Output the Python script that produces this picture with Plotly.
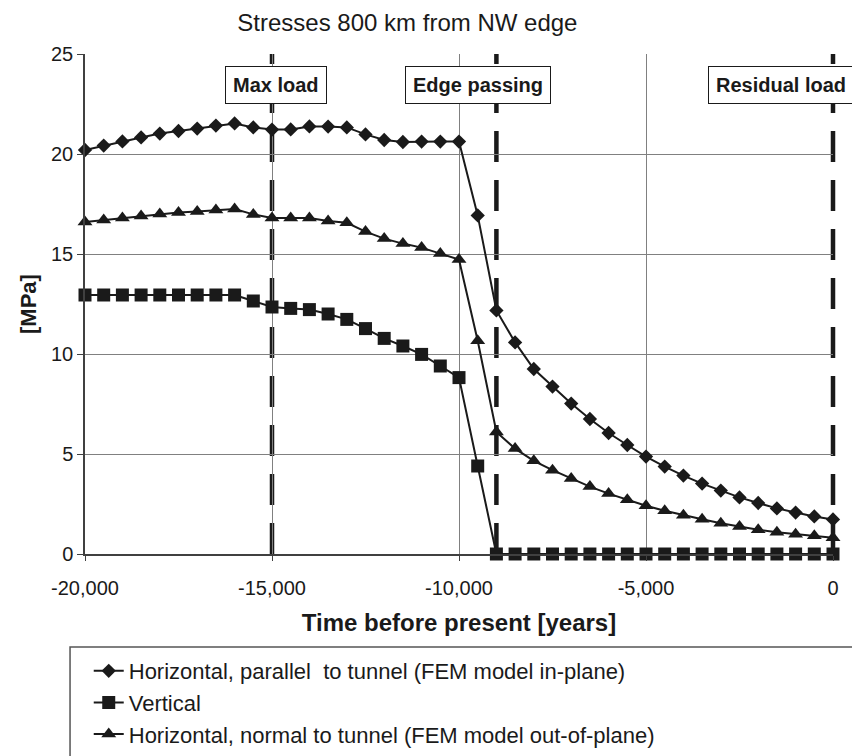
import plotly.graph_objects as go

years = [-20000, -19500, -19000, -18500, -18000, -17500, -17000, -16500, -16000, -15500,
         -15000, -14500, -14000, -13500, -13000, -12500, -12000, -11500, -11000, -10500,
         -10000, -9500, -9000, -8500, -8000, -7500, -7000, -6500, -6000, -5500,
         -5000, -4500, -4000, -3500, -3000, -2500, -2000, -1500, -1000, -500, 0]

parallel = [20.2, 20.42, 20.63, 20.83, 21.02, 21.15, 21.27, 21.42, 21.53, 21.33,
            21.22, 21.23, 21.38, 21.37, 21.33, 20.98, 20.7, 20.6, 20.62, 20.62,
            20.62, 16.93, 12.18, 10.58, 9.25, 8.37, 7.52, 6.75, 6.05, 5.45,
            4.87, 4.37, 3.92, 3.52, 3.17, 2.83, 2.55, 2.28, 2.07, 1.88, 1.73]

vertical = [12.95, 12.95, 12.95, 12.95, 12.95, 12.95, 12.95, 12.95, 12.95, 12.65,
            12.35, 12.28, 12.22, 12.0, 11.73, 11.27, 10.78, 10.4, 9.98, 9.4,
            8.82, 4.4, 0, 0, 0, 0, 0, 0, 0, 0,
            0, 0, 0, 0, 0, 0, 0, 0, 0, 0, 0]

normal = [16.6, 16.7, 16.8, 16.9, 17.0, 17.07, 17.13, 17.2, 17.25, 16.98,
          16.8, 16.8, 16.8, 16.65, 16.56, 16.12, 15.77, 15.52, 15.32, 15.02,
          14.72, 10.66, 6.1, 5.27, 4.66, 4.19, 3.77, 3.37, 3.02, 2.71,
          2.41, 2.16, 1.94, 1.74, 1.54, 1.37, 1.21, 1.09, 0.99, 0.91, 0.81]

series_names = ["Horizontal, parallel  to tunnel (FEM model in-plane)",
                "Vertical",
                "Horizontal, normal to tunnel (FEM model out-of-plane)"]

event_years = [-15000, -9000, 0]
event_labels = ["Max load", "Edge passing", "Residual load"]
event_label_x = [-14900, -9480, -3340]

x_tickvals = [-20000, -15000, -10000, -5000, 0]
x_ticktext = ["-20,000", "-15,000", "-10,000", "-5,000", "0"]
y_tickvals = [0, 5, 10, 15, 20, 25]
X_RANGE = [-20000, 0]
Y_RANGE = [0, 25]

FONT = "Liberation Sans, Arial, sans-serif"
INK = "#1a1a1a"

fig = go.Figure()
symbols = ["diamond", "square", "triangle-up"]
sizes = [11, 13, 13]
for i, (vals, name) in enumerate(zip([parallel, vertical, normal], series_names)):
    fig.add_trace(go.Scatter(
        x=years, y=vals, name=name, mode="lines+markers",
        line=dict(color=INK, width=2),
        marker=dict(symbol=symbols[i], size=sizes[i], color=INK, line=dict(width=0)),
        cliponaxis=False,
    ))

for ex in event_years:
    xp = (ex - X_RANGE[0]) / (X_RANGE[1] - X_RANGE[0])
    fig.add_shape(type="line", xref="paper", yref="y", x0=xp, x1=xp, y0=Y_RANGE[0], y1=Y_RANGE[1],
                  line=dict(color=INK, width=4.5, dash="31px,18px"), layer="between")

for lx, lab, ex in zip(event_label_x, event_labels, event_years):
    fig.add_annotation(x=lx, y=23.45, xref="x", yref="y", text=f"<b>{lab}</b>",
                       showarrow=False, xanchor="center" if ex != 0 else "left",
                       font=dict(family=FONT, size=20, color=INK),
                       bgcolor="white", bordercolor=INK, borderwidth=1, borderpad=7)

# legend frame (extends beyond the page edge like the reference)
fig.add_shape(type="rect", xref="paper", yref="paper", x0=-0.02, x1=1.2,
              y0=-0.6, y1=-0.186, line=dict(color="#555555", width=1.5),
              fillcolor="rgba(0,0,0,0)", layer="above")

fig.update_layout(
    width=852, height=756,
    margin=dict(l=85, r=19, t=54, b=202, autoexpand=False),
    paper_bgcolor="white", plot_bgcolor="white",
    font=dict(family=FONT, color=INK),
    title=dict(text="Stresses 800 km from NW edge", x=0.431, xref="paper", xanchor="center",
               y=1 - 23 / 756, yanchor="middle", font=dict(family=FONT, size=24, color=INK)),
    showlegend=True,
    legend=dict(x=0.005, y=-0.192, xanchor="left", yanchor="top", orientation="v",
                font=dict(family=FONT, size=22, color=INK), traceorder="normal",
                bgcolor="rgba(0,0,0,0)", borderwidth=0),
)

fig.update_xaxes(
    range=X_RANGE, tickvals=x_tickvals, ticktext=x_ticktext,
    showgrid=True, gridcolor="#808080", gridwidth=1,
    showline=True, linecolor="#404040", linewidth=1.5, mirror=False,
    ticks="outside", ticklen=5, tickcolor="#404040", ticklabelstandoff=10,
    tickfont=dict(family=FONT, size=20, color=INK), zeroline=False,
    title=dict(text="<b>Time before present [years]</b>", standoff=16,
               font=dict(family=FONT, size=24, color=INK)),
)
fig.update_yaxes(
    range=Y_RANGE, tickvals=y_tickvals,
    showgrid=True, gridcolor="#808080", gridwidth=1,
    showline=True, linecolor="#404040", linewidth=1.5,
    ticks="outside", ticklen=6, tickcolor="#404040",
    tickfont=dict(family=FONT, size=20, color=INK), zeroline=False,
    title=dict(text="<b>[MPa]</b>", standoff=8,
               font=dict(family=FONT, size=22, color=INK)),
)

fig.write_html("out.html")
